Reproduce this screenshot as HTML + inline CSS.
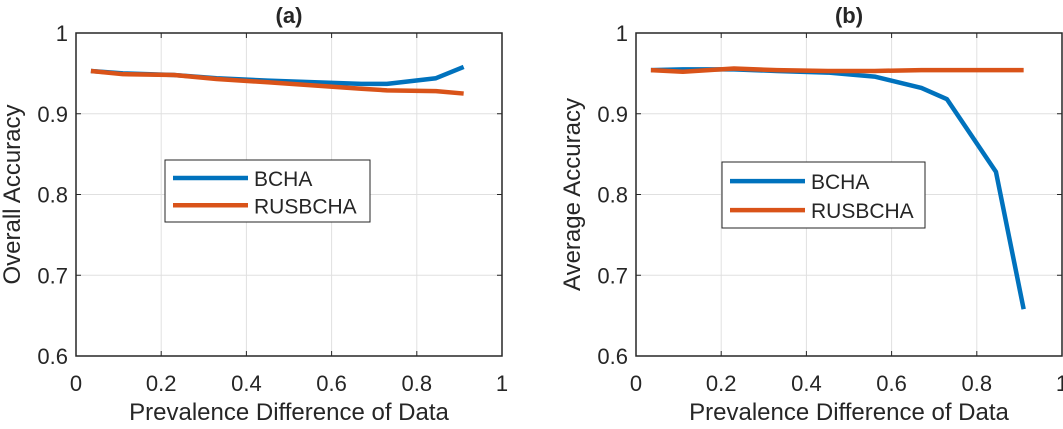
<!DOCTYPE html>
<html><head><meta charset="utf-8"><style>
body{margin:0;background:#fff;font-family:"Liberation Sans",Arial,sans-serif}
svg text{font-family:"Liberation Sans",Arial,sans-serif;fill:#262626}
</style></head><body>
<svg id="c" width="1063" height="424" viewBox="0 0 1063 424" xmlns="http://www.w3.org/2000/svg"></svg>
<script>
const xVals=[0.035,0.11,0.23,0.33,0.45,0.56,0.67,0.73,0.845,0.91];
const aBCHA=[0.953,0.950,0.948,0.944,0.941,0.939,0.937,0.937,0.944,0.958];
const aRUS=[0.953,0.949,0.948,0.943,0.939,0.935,0.931,0.929,0.928,0.925];
const bBCHA=[0.954,0.955,0.955,0.953,0.951,0.946,0.932,0.918,0.828,0.658];
const bRUS=[0.954,0.952,0.956,0.954,0.953,0.953,0.954,0.954,0.954,0.954];
const xTicks=[0,0.2,0.4,0.6,0.8,1];
const xTickLabels=["0","0.2","0.4","0.6","0.8","1"];
const yTicks=[0.6,0.7,0.8,0.9,1];
const yTickLabels=["0.6","0.7","0.8","0.9","1"];
const NS="http://www.w3.org/2000/svg";
const svg=document.getElementById('c');
function mk(t,a,p){const e=document.createElementNS(NS,t);for(const k in a)e.setAttribute(k,a[k]);(p||svg).appendChild(e);return e;}
const panels=[
 {L:76,R:502,T:33,B:356,title:"(a)",ylab:"Overall Accuracy",s1:aBCHA,s2:aRUS,lg:[165,160,205,62],id:"a"},
 {L:636,R:1062,T:33,B:356,title:"(b)",ylab:"Average Accuracy",s1:bBCHA,s2:bRUS,lg:[722,162,203,66],id:"b"}
];
panels.forEach(p=>{
 const g=mk('g',{});
 
 
 const sx=v=>p.L+(p.R-p.L)*v, sy=v=>p.B-(p.B-p.T)*(v-0.6)/0.4;
 xTicks.forEach((t,i)=>{
  if(i>0&&i<xTicks.length-1){const gl=mk('line',{x1:sx(t),x2:sx(t),y1:p.T,y2:p.B,stroke:'#e0e0e0','stroke-width':1},g);}
  mk('line',{x1:sx(t),x2:sx(t),y1:p.B,y2:p.B-5,stroke:'#262626'},g);
  mk('line',{x1:sx(t),x2:sx(t),y1:p.T,y2:p.T+5,stroke:'#262626'},g);
  const tx=mk('text',{x:sx(t),y:p.B+35,'font-size':22,'text-anchor':'middle'},g);tx.textContent=xTickLabels[i];
  
 });
 yTicks.forEach((t,i)=>{
  if(i>0&&i<yTicks.length-1){const gl=mk('line',{x1:p.L,x2:p.R,y1:sy(t),y2:sy(t),stroke:'#e0e0e0','stroke-width':1},g);}
  mk('line',{x1:p.L,x2:p.L+5,y1:sy(t),y2:sy(t),stroke:'#262626'},g);
  mk('line',{x1:p.R,x2:p.R-5,y1:sy(t),y2:sy(t),stroke:'#262626'},g);
  const tx=mk('text',{x:p.L-8,y:sy(t)+8,'font-size':22,'text-anchor':'end'},g);tx.textContent=yTickLabels[i];
  
 });
 const box=mk('rect',{x:p.L,y:p.T,width:p.R-p.L,height:p.B-p.T,fill:'none',stroke:'#262626','stroke-width':1.5},g);
 
 [[p.s1,'#0072BD','line-bcha'],[p.s2,'#D95319','line-rusbcha']].forEach(([s,c,n])=>{
  const pl=mk('polyline',{points:s.map((v,i)=>sx(xVals[i])+','+sy(v)).join(' '),fill:'none',stroke:c,'stroke-width':4.5,'stroke-linejoin':'round'},g);
  
 });
 const tt=mk('text',{x:(p.L+p.R)/2,y:23,'font-size':22,'font-weight':'bold','text-anchor':'middle'},g);tt.textContent=p.title;
 
 const xl=mk('text',{x:(p.L+p.R)/2,y:420,'font-size':24,'text-anchor':'middle'},g);xl.textContent='Prevalence Difference of Data';
 
 const yl=mk('text',{x:0,y:0,'font-size':24,'text-anchor':'middle',transform:`translate(${p.L-56},${(p.T+p.B)/2}) rotate(-90)`},g);yl.textContent=p.ylab;
 
 const [lx,ly,lw,lh]=p.lg;
 const lg=mk('g',{},g);
 
 mk('rect',{x:lx,y:ly,width:lw,height:lh,fill:'#fff',stroke:'#262626','stroke-width':1},lg);
 [['BCHA','#0072BD'],['RUSBCHA','#D95319']].forEach(([n,c],i)=>{
  const yy=ly+lh*0.29+i*lh*0.44;
  mk('line',{x1:lx+8,x2:lx+83,y1:yy,y2:yy,stroke:c,'stroke-width':4.5},lg);
  const t=mk('text',{x:lx+89,y:yy+8,'font-size':21},lg);t.textContent=n;
  
 });
});
</script>
</body></html>
